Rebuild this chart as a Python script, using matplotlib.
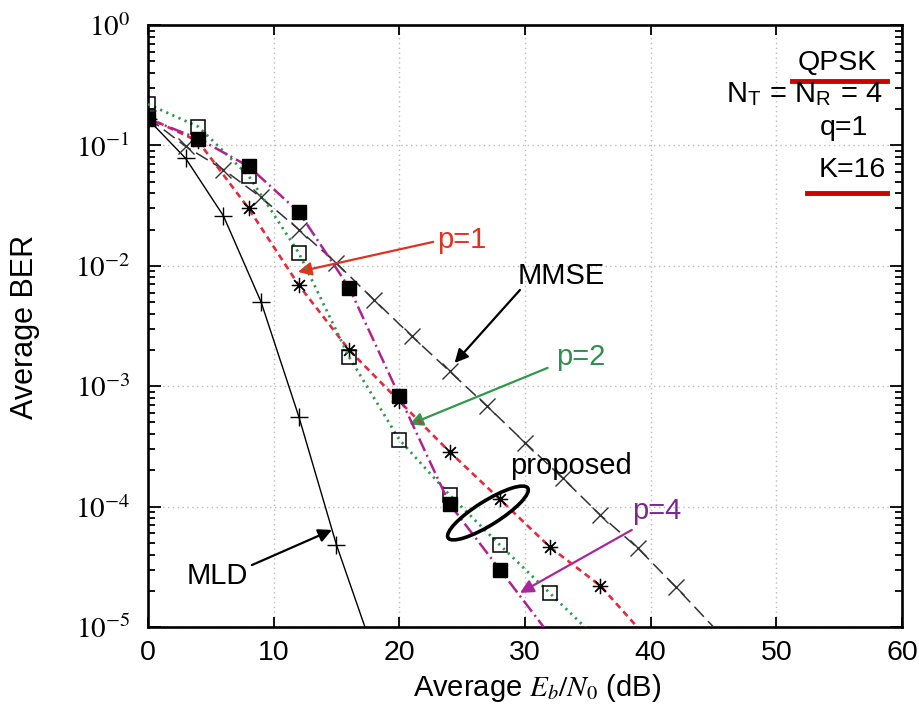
import numpy as np
import matplotlib
matplotlib.use("Agg")
import matplotlib.pyplot as plt
from matplotlib.patches import Ellipse
from matplotlib.transforms import IdentityTransform
from matplotlib.ticker import FuncFormatter, LogLocator, NullFormatter

plt.rcParams['font.family'] = ['Liberation Sans', 'DejaVu Sans']
plt.rcParams['mathtext.fontset'] = 'stix'

# data
snr_mld = [0, 3, 6, 9, 12, 15, 18]
ber_mld = [0.165, 0.078, 0.026, 5.0e-3, 5.6e-4, 4.8e-5, 6.0e-6]

snr_mmse = [0, 3, 6, 9, 12, 15, 18, 21, 24, 27, 30, 33, 36, 39, 42, 45]
ber_mmse = [0.17, 0.098, 0.063, 0.037, 0.020, 0.0105, 5.2e-3, 2.6e-3, 1.33e-3,
            6.8e-4, 3.4e-4, 1.72e-4, 8.5e-5, 4.5e-5, 2.15e-5, 1.0e-5]

snr_p1 = [0, 4, 8, 12, 16, 20, 24, 28, 32, 36, 40]
ber_p1 = [0.17, 0.108, 0.030, 6.9e-3, 2.0e-3, 7.5e-4, 2.85e-4, 1.15e-4, 4.6e-5, 2.2e-5, 7.5e-6]

snr_p2 = [0, 4, 8, 12, 16, 20, 24, 28, 32, 36]
ber_p2 = [0.22, 0.143, 0.056, 0.0128, 1.75e-3, 3.6e-4, 1.25e-4, 4.8e-5, 1.9e-5, 7.5e-6]

snr_p4 = [0, 4, 8, 12, 16, 20, 24, 28, 32]
ber_p4 = [0.166, 0.114, 0.067, 0.028, 6.6e-3, 8.3e-4, 1.05e-4, 3.0e-5, 8.5e-6]

W, H = 920, 710
fig = plt.figure(figsize=(W / 100, H / 100), dpi=100)
ax = fig.add_axes([148 / W, 1 - 627 / H, (902 - 148) / W, (627 - 25) / H])

red = '#e8283c'
green = '#2e9a4a'
mag = '#b0228f'

ax.plot(snr_mld, ber_mld, color='k', lw=1.0, marker='+', ms=13, mew=1.0,
        markevery=slice(0, 6), zorder=3)
ax.plot(snr_mmse, ber_mmse, color='#333333', lw=1.1, dashes=(9, 4), marker='x',
        ms=12, mew=1.0, markevery=slice(0, 15), zorder=3)
ax.plot(snr_p1, ber_p1, color=red, lw=1.9, dashes=(2.4, 1.7), marker=(8, 2, 0),
        ms=11, mew=0.9, mec='k', markevery=slice(0, 10), zorder=4)
ax.plot(snr_p2, ber_p2, color=green, lw=2.0, dashes=(0.8, 1.6), marker='s',
        ms=10, mew=1.1, mec='k', mfc='none', markevery=slice(0, 9), zorder=5)
ax.plot(snr_p4, ber_p4, color=mag, lw=1.8, dashes=(5.5, 1.7, 0.8, 1.7), marker='s',
        ms=10, mew=1.0, mec='k', mfc='k', markevery=slice(0, 8), zorder=6)

ax.set_yscale('log')
ax.set_xlim(0, 60)
ax.set_ylim(1e-5, 1)
ax.set_xticks([0, 10, 20, 30, 40, 50, 60])
ax.yaxis.set_major_locator(LogLocator(base=10, numticks=10))
ax.yaxis.set_minor_locator(LogLocator(base=10, subs=np.arange(2, 10), numticks=10))
ax.yaxis.set_minor_formatter(NullFormatter())
ax.yaxis.set_major_formatter(FuncFormatter(lambda v, p: r'$10^{%d}$' % round(np.log10(v))))

ax.tick_params(which='both', direction='in', top=True, right=True, width=1.3)
ax.tick_params(axis='x', which='major', length=7, pad=9, labelsize=20.5)
ax.tick_params(axis='y', which='major', length=9, pad=13, labelsize=21)
ax.tick_params(axis='y', which='minor', length=5)
for s in ax.spines.values():
    s.set_linewidth(1.9)
ax.grid(True, which='major', color='#bbbbbb', linestyle=(0, (1, 2.5)), lw=1.0)

fig.text(25 / W, 1 - 327 / H, 'Average BER', rotation=90, ha='center', va='center', fontsize=22)
fig.text(537 / W, 1 - 688 / H, r'Average $E_b/N_0$ (dB)', ha='center', va='center', fontsize=21)

# annotations
fs = 21
arr = dict(arrowstyle='-|>', lw=1.6, mutation_scale=20, shrinkA=0, shrinkB=0)
ax.annotate('', xy=(11.93, 8.9e-3), xytext=(22.7, 0.0158), arrowprops=dict(arr, color='#e0321e'))
ax.text(23.0, 0.0164, 'p=1', color='#e0321e', fontsize=fs, va='center', ha='left')

ax.annotate('', xy=(24.4, 1.56e-3), xytext=(29.6, 6.3e-3), arrowprops=dict(arr, color='k'))
ax.text(29.4, 8.2e-3, 'MMSE', color='k', fontsize=fs, va='center', ha='left')

ax.annotate('', xy=(20.8, 4.8e-4), xytext=(31.8, 1.42e-3), arrowprops=dict(arr, color='#2e9a4a'))
ax.text(32.5, 1.75e-3, 'p=2', color='#2e9050', fontsize=fs, va='center', ha='left')

ax.annotate('', xy=(29.6, 1.92e-5), xytext=(38.5, 6.4e-5), arrowprops=dict(arr, color='#a8289c'))
ax.text(38.5, 9.2e-5, 'p=4', color='#7a2a8e', fontsize=fs, va='center', ha='left')

ax.annotate('', xy=(14.64, 6.4e-5), xytext=(8.27, 3.27e-5), arrowprops=dict(arr, color='k'))
ax.text(3.1, 2.65e-5, 'MLD', color='k', fontsize=fs, va='center', ha='left')

ax.text(28.8, 2.17e-4, 'proposed', color='k', fontsize=fs, va='center', ha='left')

# ellipse around proposed curves
cx, cy = ax.transData.transform((27.05, 8.85e-5))
ax.add_patch(Ellipse((cx, cy), 94, 24, angle=32, fill=False, lw=2.6, ec='k',
                     transform=IdentityTransform(), clip_on=False, zorder=7))

# top right info block
fig.text(837 / W, 1 - 63 / H, 'QPSK', ha='center', va='center', fontsize=20.5)
fig.text(882 / W, 1 - 94 / H, r'N$_\mathregular{T}$ = N$_\mathregular{R}$ = 4', ha='right', va='center', fontsize=21)
fig.text(844 / W, 1 - 128 / H, 'q=1', ha='center', va='center', fontsize=20.5)
fig.text(852 / W, 1 - 170 / H, 'K=16', ha='center', va='center', fontsize=20.5)
fig.add_artist(plt.Line2D([792 / W, 887 / W], [1 - 81 / H, 1 - 81 / H], color='#cc0000', lw=3.5))
fig.add_artist(plt.Line2D([807 / W, 887 / W], [1 - 193 / H, 1 - 193 / H], color='#cc0000', lw=3.5))

fig.savefig('out.png', dpi=100)
